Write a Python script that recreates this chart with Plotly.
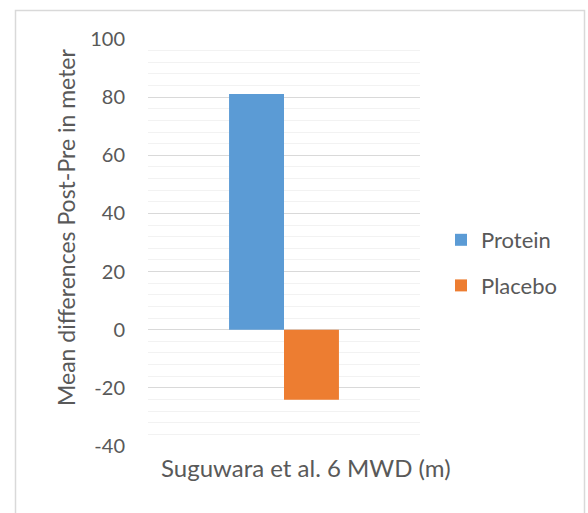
import plotly.graph_objects as go

categories = ["Suguwara et al. 6 MWD (m)"]
protein = [81.1]
placebo = [-24.1]
y_ticks = [-40, -20, 0, 20, 40, 60, 80, 100]
y_ticktext = ["-40", "-20", "0", "20", "40", "60", "80", "100"]
y_title = "Mean differences Post-Pre in meter"

TEXT = "#595959"
FONT = "Lato, Calibri, Carlito, sans-serif"

W, H = 588, 513
L, R, T, B = 148, 168, 39, 67
pw, ph = W - L - R, H - T - B

def px(x):
    return (x - L) / pw

def py(y):
    return (H - B - y) / ph

fig = go.Figure()
fig.add_trace(go.Bar(name="Protein", x=categories, y=protein, marker_color="#5B9BD5",
                     marker_line_width=0, legendgroup="a"))
fig.add_trace(go.Bar(name="Placebo", x=categories, y=placebo, marker_color="#ED7D31",
                     marker_line_width=0, legendgroup="b"))

fig.update_layout(
    width=W, height=H,
    margin=dict(l=L, r=R, t=T, b=B, autoexpand=False),
    paper_bgcolor="white", plot_bgcolor="white",
    barmode="group", bargap=0.596, bargroupgap=0,
    font=dict(family=FONT, color=TEXT, size=20),
    legend=dict(x=px(441), xanchor="left", y=py(263), yanchor="middle",
                font=dict(size=22, color=TEXT), tracegroupgap=14,
                traceorder="grouped", bgcolor="rgba(0,0,0,0)"),
    xaxis=dict(showticklabels=False, showgrid=False, zeroline=False, showline=False,
               range=[-0.5, 0.5], fixedrange=True),
    yaxis=dict(range=[-40, 100], tickvals=y_ticks, ticktext=y_ticktext,
               showgrid=True, gridcolor="#D9D9D9",
               gridwidth=1, zeroline=True, zerolinecolor="#D9D9D9", zerolinewidth=1,
               showline=False, ticks="", ticklabelstandoff=22,
               tickfont=dict(size=20, color=TEXT),
               minor=dict(dtick=4, showgrid=True, gridcolor="#F2F2F2", gridwidth=1)),
    showlegend=True,
)

fig.add_annotation(text=categories[0], xref="paper", yref="paper", x=px(306), y=py(468),
                   xanchor="center", yanchor="middle", showarrow=False,
                   font=dict(size=24, color=TEXT, family=FONT))
fig.add_annotation(text=y_title, xref="paper", yref="paper", x=px(66), y=py(228),
                   xanchor="center", yanchor="middle", showarrow=False, textangle=-90,
                   font=dict(size=23, color=TEXT, family=FONT))

fig.add_shape(type="rect", xref="paper", yref="paper", x0=px(15.5), x1=px(584.5),
              y0=py(530), y1=py(10.5), line=dict(color="#D9D9D9", width=1.5),
              fillcolor="rgba(0,0,0,0)", layer="below")

fig.write_html("out.html")
